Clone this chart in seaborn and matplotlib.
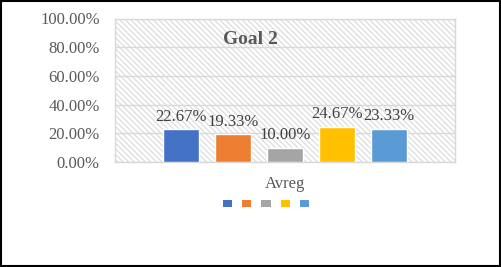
import pandas as pd
import matplotlib.pyplot as plt
import seaborn as sns
from matplotlib.patches import Rectangle, Patch

# data
category = "Avreg"
series = ["S1", "S2", "S3", "S4", "S5"]
values = [22.67, 19.33, 10.00, 24.67, 23.33]
colors = ["#4472C4", "#ED7D31", "#A5A5A5", "#FFC000", "#5B9BD5"]
yticks = [0, 20, 40, 60, 80, 100]

df = pd.DataFrame({"cat": [category] * len(series), "series": series, "value": values})

sns.set_style("white")
plt.rcParams["font.family"] = ["Liberation Serif", "DejaVu Serif"]
plt.rcParams["hatch.linewidth"] = 0.9

fig = plt.figure(figsize=(5.02, 2.67), dpi=100)
ax = fig.add_axes([115 / 502, 1 - 162 / 267, 340 / 502, 143.5 / 267])

# hatched plot-area background
ax.add_patch(Rectangle((0, 0), 1, 1, transform=ax.transAxes, facecolor="white",
                       edgecolor="#DDDDDD", hatch="\\\\\\\\\\\\", linewidth=0, zorder=0))

sns.barplot(data=df, x="cat", y="value", hue="series", palette=colors, saturation=1,
            width=0.765, gap=0.31, legend=False, ax=ax, zorder=3)

for cont in ax.containers:
    ax.bar_label(cont, labels=[f"{v:.2f}%" for v in cont.datavalues], padding=3,
                 fontsize=12, color="#404040", zorder=4)

ax.set_ylim(0, 100)
ax.set_xlim(-0.5, 0.5)
ax.set_yticks(yticks)
ax.set_yticklabels([f"{t:.2f}%" for t in yticks], fontsize=12, color="#595959")
ax.tick_params(axis="y", length=0, pad=11)
ax.tick_params(axis="x", length=0, pad=10, labelsize=12, labelcolor="#595959")
ax.yaxis.grid(True, color="#D9D9D9", linewidth=1, zorder=1)
ax.set_axisbelow(True)
ax.set_xlabel("")
ax.set_ylabel("")
for s in ax.spines.values():
    s.set_color("#D9D9D9")
    s.set_linewidth(1)

fig.text(250 / 502, 1 - 40 / 267, "Goal 2", ha="center", va="center",
         fontsize=14, fontweight="bold", color="#595959")

handles = [Patch(facecolor=c, edgecolor="none") for c in colors]
fig.legend(handles, [""] * len(colors), loc="center", ncol=5,
           bbox_to_anchor=(266 / 502, 1 - 203.5 / 267), frameon=False,
           fontsize=5, handlelength=1.3, handleheight=1.3, handletextpad=0,
           columnspacing=1.5)

fig.add_artist(Rectangle((0.001, 0.003), 0.995, 0.994, transform=fig.transFigure,
                         fill=False, edgecolor="black", linewidth=1.5))

fig.savefig("out.png", dpi=100)
